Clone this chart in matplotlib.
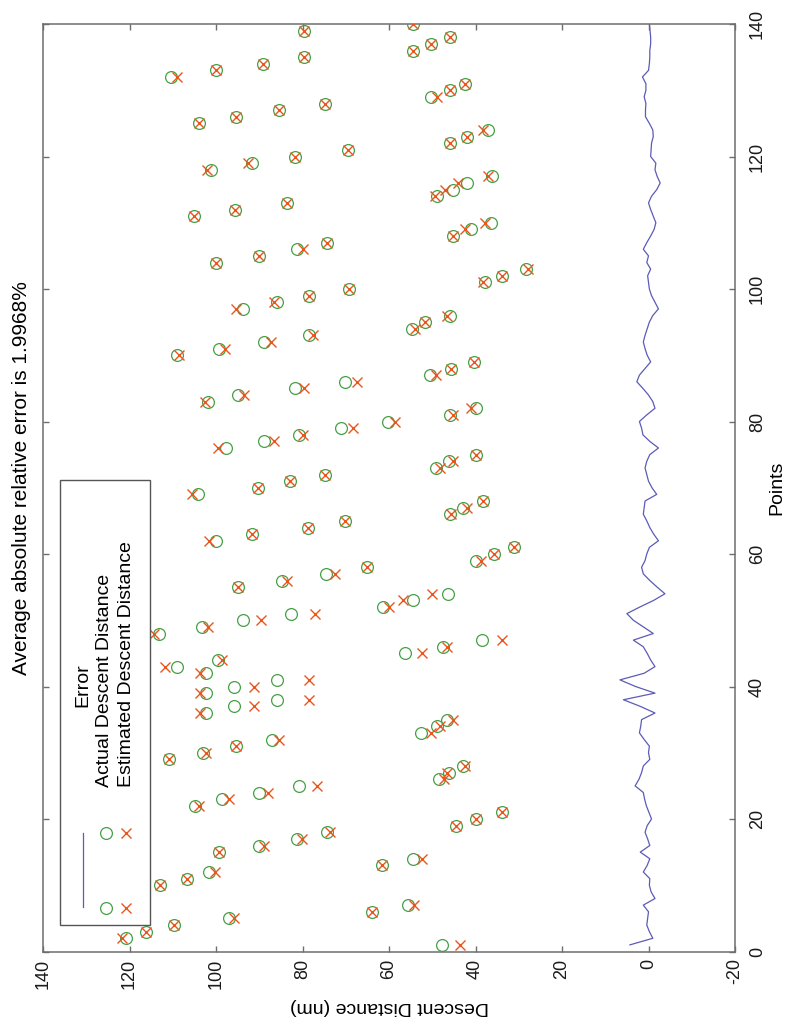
import matplotlib
matplotlib.use("Agg")
import matplotlib.pyplot as plt
from matplotlib.patches import Rectangle
from matplotlib.lines import Line2D
import numpy as np

plt.rcParams['font.family'] = ['Liberation Sans', 'DejaVu Sans']
plt.rcParams['axes.unicode_minus'] = False

# point index (horizontal axis of the original, drawn vertically here)
points = np.arange(1, 141)

actual = [
    47.8, 120.9, 116.2, 109.8, 97.0, 63.9, 55.7, 125.0, 119.0, 112.9,
    106.7, 101.7, 61.6, 54.5, 99.2, 90.1, 81.2, 74.4, 44.6, 39.9,
    33.8, 104.8, 98.5, 90.1, 80.7, 48.4, 46.1, 43.0, 110.8, 102.9,
    95.3, 87.0, 52.6, 48.8, 46.7, 102.2, 95.9, 85.9, 102.2, 95.9,
    85.9, 102.2, 109.0, 99.5, 56.4, 47.4, 38.6, 113.1, 103.2, 93.8,
    82.6, 61.3, 54.5, 46.3, 94.8, 84.7, 74.6, 65.2, 39.9, 35.7,
    31.0, 100.1, 91.7, 78.8, 70.2, 45.9, 43.0, 38.3, 104.2, 90.3,
    83.0, 74.7, 49.1, 46.1, 39.9, 97.7, 88.9, 80.7, 71.0, 60.3,
    45.9, 39.9, 101.8, 94.8, 81.7, 70.2, 50.5, 45.6, 40.4, 109.0,
    99.3, 88.9, 78.6, 54.7, 51.6, 45.8, 93.8, 85.9, 78.4, 69.2,
    37.8, 33.8, 28.3, 100.1, 90.1, 81.2, 74.4, 45.1, 41.1, 36.5,
    105.0, 95.6, 83.5, 48.8, 45.3, 41.9, 36.2, 101.1, 91.7, 81.7,
    69.4, 45.8, 42.0, 37.2, 103.9, 95.3, 85.4, 74.7, 50.3, 45.8,
    42.5, 110.5, 99.9, 89.1, 79.6, 54.5, 50.3, 45.8, 79.6, 54.5,
]

estimated = [
    43.5, 121.7, 116.2, 109.8, 95.9, 63.9, 54.3, 125.0, 119.0, 112.9,
    106.7, 100.2, 61.6, 52.4, 99.2, 88.9, 80.2, 73.6, 44.6, 39.9,
    33.8, 103.9, 97.1, 88.0, 76.7, 47.2, 46.7, 42.5, 110.8, 102.4,
    95.3, 85.4, 50.3, 48.2, 45.3, 103.7, 91.2, 78.4, 103.7, 91.2,
    78.4, 103.7, 111.8, 98.7, 52.4, 46.7, 33.8, 114.4, 101.8, 89.6,
    77.0, 59.9, 56.8, 50.1, 94.8, 83.6, 72.5, 65.2, 38.8, 35.7,
    31.0, 101.6, 91.7, 78.8, 70.2, 45.6, 42.0, 38.3, 105.6, 90.3,
    83.0, 74.7, 48.2, 45.1, 39.9, 99.5, 86.7, 79.8, 68.3, 58.7,
    45.3, 41.1, 102.5, 93.5, 79.6, 67.3, 49.1, 45.6, 40.4, 108.5,
    98.0, 87.2, 77.6, 54.0, 51.6, 46.7, 95.3, 86.7, 78.4, 69.2,
    38.3, 33.8, 27.8, 100.1, 90.1, 79.9, 74.4, 45.1, 42.5, 37.8,
    105.0, 95.6, 83.5, 49.3, 47.0, 44.0, 37.2, 102.1, 92.7, 81.7,
    69.4, 45.8, 42.0, 38.3, 103.9, 95.3, 85.4, 74.7, 48.8, 45.8,
    42.5, 109.0, 99.9, 89.1, 79.6, 54.5, 50.3, 45.8, 79.6, 54.5,
]

error = [
    4.3, -1.0, -0.2, 0.4, 0.2, 0.0, 1.2, -1.5, -0.6, -0.2,
    -0.3, 1.2, 0.3, -0.3, 1.9, -0.3, 0.2, 0.8, 0.3, -0.7,
    -0.1, 0.5, 0.9, 1.2, 3.1, 2.2, 1.6, 1.2, -0.3, 0.0,
    -0.2, 1.0, 2.1, 1.8, 1.6, -1.5, 1.9, 5.8, -1.5, 3.0,
    6.6, 1.0, -1.5, -0.5, 0.3, 1.2, 3.5, -1.1, 1.2, 3.5,
    5.0, 2.0, -1.2, -3.8, -2.0, -0.3, 1.2, 1.6, 0.8, 0.4,
    -0.2, -2.3, -1.2, -0.3, 0.4, 1.2, 1.0, 0.8, -1.9, -0.8,
    0.0, 0.4, 0.8, 0.4, -0.3, -2.3, -0.3, 1.3, 1.6, 2.1,
    0.4, -1.5, -1.0, 0.0, 1.3, 2.7, 2.1, 0.8, -0.5, 0.3,
    0.8, 1.2, 0.8, 0.3, -0.2, -1.0, -2.3, -1.5, -0.7, -0.2,
    0.0, 0.2, -0.5, 0.4, 0.0, 1.2, 0.4, -0.5, -1.3, -1.7,
    -1.1, -0.5, 0.0, -0.7, -1.9, -2.7, -2.0, -1.5, -1.7, -0.5,
    -0.6, -0.7, -1.1, -1.0, -0.2, 0.7, 0.7, 0.6, 1.0, 0.6,
    0.6, 1.4, 0.0, -0.2, -0.3, -0.3, -0.5, -0.5, -0.35, -0.2,
]

descent_ticks = [-20, 0, 20, 40, 60, 80, 100, 120, 140]
point_ticks = [0, 20, 40, 60, 80, 100, 120, 140]

title = "Average absolute relative error is 1.9968%"
legend_labels = ["Error", "Actual Descent Distance", "Estimated Descent Distance"]

BLUE = "#5b5bb8"
GREEN = "#45a045"
RED = "#e8561e"
AXIS = "#6e6e6e"

W, H = 789, 1026
# axes box in image pixels
AX_L, AX_R, AX_T, AX_B = 43, 735, 24, 951.5


def ax_xy(px, py):
    """pixel position of the picture -> axes fraction"""
    return (px - AX_L) / (AX_R - AX_L), (AX_B - py) / (AX_B - AX_T)


fig = plt.figure(figsize=(W / 100, H / 100), dpi=100)
ax = fig.add_axes([AX_L / W, 1 - AX_B / H, (AX_R - AX_L) / W, (AX_B - AX_T) / H])

# the whole chart is turned a quarter turn: descent distance runs right-to-left
ax.plot(error, points, color=BLUE, lw=0.9, zorder=2)
ax.plot(actual, points, "o", mfc="none", mec=GREEN, ms=8.5, mew=0.9, zorder=3)
ax.plot(estimated, points, "x", color=RED, ms=6.5, mew=1.0, zorder=4)

ax.set_xlim(140, -20)
ax.set_ylim(0, 140)
ax.set_xticks(descent_ticks)
ax.set_yticks(point_ticks)

for s in ax.spines.values():
    s.set_color(AXIS)
    s.set_linewidth(1.1)

ax.tick_params(direction="in", length=4, width=1.0, color=AXIS,
               top=True, bottom=True, left=True, right=True,
               labelsize=13, labelcolor="#1a1a1a")
ax.tick_params(axis="x", labelrotation=90, pad=5)
ax.tick_params(axis="y", labelleft=False, labelright=True, labelrotation=90, pad=10)
for lbl in ax.get_yticklabels():
    lbl.set_va("center")

# axis titles, turned with the chart
ax.text(0.5, ax_xy(0, 1006)[1], "Descent Distance (nm)", rotation=180,
        ha="center", va="center", fontsize=14, transform=ax.transAxes)
ax.text(ax_xy(777, 0)[0], 0.5, "Points", rotation=90,
        ha="center", va="center", fontsize=14, transform=ax.transAxes)
ax.text(ax_xy(22, 0)[0], ax_xy(0, 478)[1], title, rotation=90,
        ha="center", va="center", fontsize=15, transform=ax.transAxes)

# legend box (entries stacked side by side, reading bottom to top)
x0, y0 = ax_xy(60, 925)
x1, y1 = ax_xy(150, 480)
ax.add_patch(Rectangle((x0, y0), x1 - x0, y1 - y0, transform=ax.transAxes,
                       facecolor="white", edgecolor="#555555", lw=1.0,
                       zorder=10, clip_on=False))

lx, ly_top = ax_xy(83, 833)
_, ly_bot = ax_xy(83, 907)
ax.add_line(Line2D([lx, lx], [ly_bot, ly_top], color=BLUE, lw=0.9,
                   transform=ax.transAxes, zorder=11))
for my in (833, 908):
    cx, cy = ax_xy(105.5, my)
    ax.add_line(Line2D([cx], [cy], marker="o", mfc="none", mec=GREEN, ms=8.5,
                       mew=0.9, transform=ax.transAxes, zorder=11))
    rx, ry = ax_xy(126, my)
    ax.add_line(Line2D([rx], [ry], marker="x", color=RED, ms=6.5, mew=1.0,
                       transform=ax.transAxes, zorder=11))

text_pos = [(83, 707), (104.5, 787), (126.5, 787)]
for (px, py), lab in zip(text_pos, legend_labels):
    tx, ty = ax_xy(px, py)
    ax.text(tx, ty, lab, rotation=90, ha="center", va="bottom", fontsize=14,
            transform=ax.transAxes, zorder=12)

fig.savefig("out.png", dpi=100)
